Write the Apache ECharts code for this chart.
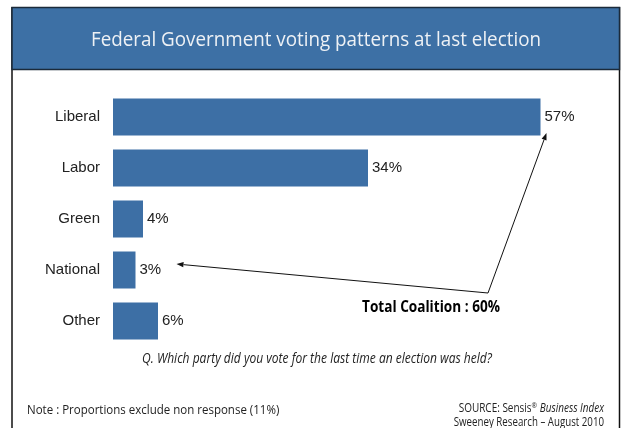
<!DOCTYPE html>
<html>
<head>
<meta charset="utf-8">
<script src="https://cdn.jsdelivr.net/npm/echarts@6/dist/echarts.min.js"></script>
<style>
  html, body { margin: 0; padding: 0; background: #fff; }
  #chart { width: 623px; height: 428px; }
</style>
</head>
<body>
<div id="chart"></div>
<script>
// Party shares (%) at the last federal election
const parties = ['Liberal', 'Labor', 'Green', 'National', 'Other'];
const shares = [57, 34, 4, 3, 6];
const coalitionTotal = 60;

const titleText = 'Federal Government voting patterns at last election';
const questionText = 'Q. Which party did you vote for the last time an election was held?';
const noteText = 'Note : Proportions exclude non response (11%)';
const sourceLine2 = 'Sweeney Research – August 2010';

const BAR = '#3d6fa5';
const INK = '#222';
const HUMANIST = '"Open Sans", "Noto Sans", sans-serif';
const ARIAL = '"Liberation Sans", Arial, sans-serif';

const chart = echarts.init(document.getElementById('chart'), null, { renderer: 'canvas' });

chart.setOption({
  animation: false,
  backgroundColor: '#fff',
  grid: { left: 113, top: 91.5, width: 450, height: 255, containLabel: false },
  xAxis: { type: 'value', min: 0, max: 60, show: false },
  yAxis: {
    type: 'category', data: parties, inverse: true,
    axisLine: { show: false }, axisTick: { show: false },
    axisLabel: { color: INK, fontSize: 15, fontFamily: ARIAL, margin: 13 }
  },
  series: [{
    type: 'bar',
    data: shares,
    barWidth: 37,
    itemStyle: { color: BAR },
    label: {
      show: true, position: 'right', distance: 4,
      formatter: p => p.value + '%',
      color: INK, fontSize: 15, fontFamily: ARIAL
    }
  }]
});

// A line from a to b finished with a small filled arrowhead at b
function arrow(a, b) {
  const ang = Math.atan2(b[1] - a[1], b[0] - a[0]);
  const L = 7, W = 2.6;
  const bx = b[0] - L * Math.cos(ang), by = b[1] - L * Math.sin(ang);
  const nx = -Math.sin(ang) * W, ny = Math.cos(ang) * W;
  return [
    { type: 'line', shape: { x1: a[0], y1: a[1], x2: bx, y2: by }, style: { stroke: '#111', lineWidth: 1 } },
    { type: 'polygon', shape: { points: [[b[0], b[1]], [bx + nx, by + ny], [bx - nx, by - ny]] }, style: { fill: '#111' } }
  ];
}

// The coalition call-out points at the Liberal and National bars
const libEnd = chart.convertToPixel({ gridIndex: 0 }, [shares[0], 0]);
const natEnd = chart.convertToPixel({ gridIndex: 0 }, [shares[3], 3]);
const otherPt = chart.convertToPixel({ gridIndex: 0 }, [50, 4]);
const vertex = [otherPt[0], otherPt[1] - 28];
const tipLib = [libEnd[0] + 6, libEnd[1] + 16];
const tipNat = [natEnd[0] + 41, natEnd[1] - 6];

// Text in a condensed cut: horizontally squeezed humanist sans
function condensed(opts, sx) {
  return Object.assign({ type: 'text', scaleX: sx, scaleY: 1 }, opts);
}

const graphics = [
  // frame sides
  { type: 'line', shape: { x1: 12, y1: 7, x2: 12, y2: 428 }, style: { stroke: '#111', lineWidth: 1.5 } },
  { type: 'line', shape: { x1: 619.5, y1: 7, x2: 619.5, y2: 428 }, style: { stroke: '#111', lineWidth: 1.5 } },
  // title banner
  { type: 'rect', shape: { x: 12, y: 7.5, width: 607.5, height: 62 }, style: { fill: '#3d70a5', stroke: '#1b2a3a', lineWidth: 1.5 } },
  condensed({ x: 316, y: 40, style: { text: titleText, fill: '#eef1f5', font: '20px ' + HUMANIST, align: 'center', verticalAlign: 'middle' } }, 0.94),
  // coalition call-out
  condensed({ x: 431, y: 307, style: { text: 'Total Coalition : ' + coalitionTotal + '%', fill: '#000', font: 'bold 16px ' + HUMANIST, align: 'center', verticalAlign: 'middle' } }, 0.85),
  // survey question and footer
  condensed({ x: 317, y: 359.5, style: { text: questionText, fill: INK, font: 'italic 14px ' + HUMANIST, align: 'center', verticalAlign: 'middle' } }, 0.86),
  condensed({ x: 27, y: 410, style: { text: noteText, fill: INK, font: '13px ' + HUMANIST, align: 'left', verticalAlign: 'middle' } }, 0.885),
  condensed({ x: 604, y: 409, style: { rich: {
      n: { fill: INK, font: '12px ' + HUMANIST },
      s: { fill: INK, font: '8px ' + HUMANIST, verticalAlign: 'top', padding: [0, 0, 6, 0] },
      i: { fill: INK, font: 'italic 12px ' + HUMANIST }
    }, text: '{n|SOURCE: Sensis}{s|®}{n| }{i|Business Index}', align: 'right', verticalAlign: 'middle' } }, 0.83),
  condensed({ x: 604, y: 422.5, style: { text: sourceLine2, fill: INK, font: '12px ' + HUMANIST, align: 'right', verticalAlign: 'middle' } }, 0.81)
].concat(arrow(vertex, tipLib), arrow(vertex, tipNat));

chart.setOption({ graphic: graphics });
</script>
</body>
</html>
